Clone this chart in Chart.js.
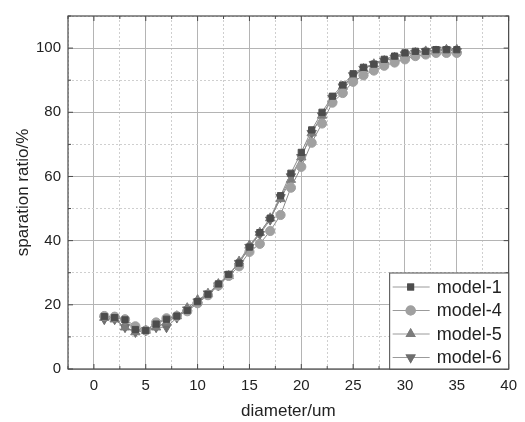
<!DOCTYPE html>
<html>
<head>
<meta charset="utf-8">
<script src="https://cdn.jsdelivr.net/npm/chart.js@4/dist/chart.umd.min.js"></script>
<style>
  html, body { margin: 0; padding: 0; background: #fff; }
  #wrap { width: 525px; height: 422px; position: relative; }
</style>
</head>
<body>
<div id="wrap"><canvas id="sepChart"></canvas></div>
<script>
// separation ratio vs particle diameter, four models
const diameters = [1,2,3,4,5,6,7,8,9,10,11,12,13,14,15,16,17,18,19,20,21,22,23,24,25,26,27,28,29,30,31,32,33,34,35];
const model1 = [16.3,16,15.3,12.3,12,14,15.5,16.5,18.3,21,23.3,26.5,29.5,33,38,42.5,47,54,61,67.5,74.5,80,85,88.5,92,94,95,96.5,97.5,98.5,99,99,99.5,99.5,99.5];
const model4 = [16.5,16.3,15.5,13.3,12,14.5,15.8,16.5,18,20.5,23,26,29,32,36.5,39,43,48,56.5,63,70.5,76.5,83,86,89.5,91.5,93,94.5,95.5,96.5,97.5,98,98.5,98.5,98.5];
const model5 = [16,15.5,13,11.5,12,13,14.5,16.5,19,21.5,23.5,26.5,29,33.5,38.5,42.5,47,53,59,66,73.5,79,84,88,91,93.5,95,96,97,98,98.5,99,99,99.5,99.5];
const model6 = [15.5,15.5,13,11.5,12,13,13,16,18.5,21,23.5,26,29.5,33,38,42,46.5,53.5,60,66,73.5,79,84.5,88,91.5,93.5,95,96,97,98,98.5,99,99.5,99.5,99];
const seriesNames = ['model-1', 'model-4', 'model-5', 'model-6'];
const xTicks = [-2.5,0,2.5,5,7.5,10,12.5,15,17.5,20,22.5,25,27.5,30,32.5,35,37.5,40];
const yTicks = [0,10,20,30,40,50,60,70,80,90,100,110];

const FONT = 'Liberation Sans, Arial, sans-serif';

function pts(arr) { return diameters.map((d, i) => ({ x: d, y: arr[i] })); }

const styles = [
  { color: '#4d4d4d', point: 'rect', r: 4.4, rot: 0 },
  { color: '#a0a0a0', point: 'circle', r: 4.6, rot: 0 },
  { color: '#7c7c7c', point: 'triangle', r: 5.4, rot: 0 },
  { color: '#6e6e6e', point: 'triangle', r: 5.4, rot: 180 }
];
const allSeries = [model1, model4, model5, model6];

const datasets = allSeries.map((s, i) => ({
  label: seriesNames[i],
  data: pts(s),
  borderColor: '#8a8a8a',
  borderWidth: 1,
  backgroundColor: styles[i].color,
  pointBackgroundColor: styles[i].color,
  pointBorderColor: styles[i].color,
  pointBorderWidth: 1,
  pointStyle: styles[i].point,
  pointRadius: styles[i].r,
  pointRotation: styles[i].rot,
  showLine: true,
  tension: 0
}));

// frame, inward ticks and the legend box
const framePlugin = {
  id: 'frame',
  afterDraw(chart) {
    const c = chart.ctx, a = chart.chartArea;
    const xs = chart.scales.x, ys = chart.scales.y;
    c.save();
    c.strokeStyle = '#4a4a4a';
    c.lineWidth = 1.2;
    c.strokeRect(a.left, a.top, a.right - a.left, a.bottom - a.top);
    c.lineWidth = 1;
    xTicks.forEach(v => {
      const px = xs.getPixelForValue(v);
      const len = v % 5 === 0 ? 5 : 3;
      c.beginPath();
      c.moveTo(px, a.bottom); c.lineTo(px, a.bottom - len);
      c.moveTo(px, a.top); c.lineTo(px, a.top + len);
      c.stroke();
    });
    yTicks.forEach(v => {
      const py = ys.getPixelForValue(v);
      const len = v % 20 === 0 ? 5 : 3;
      c.beginPath();
      c.moveTo(a.left, py); c.lineTo(a.left + len, py);
      c.moveTo(a.right, py); c.lineTo(a.right - len, py);
      c.stroke();
    });

    // legend inside lower right
    const bx = a.right - 119, by = a.bottom - 96, bw = 119, bh = 96;
    c.fillStyle = '#fff';
    c.fillRect(bx, by, bw, bh);
    c.strokeStyle = '#4a4a4a';
    c.strokeRect(bx, by, bw, bh);
    chart.data.datasets.forEach((ds, i) => {
      const y = by + 14 + i * 23.5;
      c.strokeStyle = '#9a9a9a';
      c.beginPath();
      c.moveTo(bx + 3, y); c.lineTo(bx + 40, y);
      c.stroke();
      const st = styles[i];
      c.fillStyle = st.color;
      Chart.helpers.drawPoint(c, { pointStyle: st.point, radius: st.r + 0.5, rotation: st.rot, borderWidth: 0 }, bx + 21, y);
      c.fill();
      c.fillStyle = '#222';
      c.font = '18px ' + FONT;
      c.textBaseline = 'middle';
      c.fillText(ds.label, bx + 47, y + 1);
    });
    c.restore();
  }
};

new Chart(document.getElementById('sepChart'), {
  type: 'scatter',
  data: { datasets },
  options: {
    animation: false,
    responsive: true,
    maintainAspectRatio: false,
    layout: { padding: { top: 12, right: 13, left: 0, bottom: 0 } },
    plugins: { legend: { display: false }, tooltip: { enabled: false } },
    scales: {
      x: {
        type: 'linear',
        min: -2.5,
        max: 40,
        afterBuildTicks: s => { s.ticks = xTicks.map(v => ({ value: v })); },
        afterFit: s => { s.height = 53; },
        grid: {
          drawTicks: false,
          color: ctx => (ctx.tick && ctx.tick.value % 5 === 0) ? '#b4b4b4' : '#cfcfcf'
        },
        border: { display: false, dash: ctx => (ctx.tick && ctx.tick.value % 5 === 0) ? [] : [2, 2] },
        ticks: {
          autoSkip: false,
          maxRotation: 0,
          padding: 8,
          color: '#222',
          font: { family: FONT, size: 15 },
          callback: v => (v % 5 === 0 && v >= 0) ? String(v) : ''
        },
        title: {
          display: true,
          text: 'diameter/um',
          color: '#222',
          font: { family: FONT, size: 17 },
          padding: { top: 4, bottom: 0 }
        }
      },
      y: {
        type: 'linear',
        min: 0,
        max: 110,
        afterBuildTicks: s => { s.ticks = yTicks.map(v => ({ value: v })); },
        afterFit: s => { s.width = 68; },
        grid: {
          drawTicks: false,
          color: ctx => (ctx.tick && ctx.tick.value % 20 === 0) ? '#b4b4b4' : '#cfcfcf'
        },
        border: { display: false, dash: ctx => (ctx.tick && ctx.tick.value % 20 === 0) ? [] : [2, 2] },
        ticks: {
          autoSkip: false,
          padding: 7,
          color: '#222',
          font: { family: FONT, size: 15 },
          callback: v => (v % 20 === 0 && v <= 100) ? String(v) : ''
        },
        title: {
          display: true,
          text: 'sparation ratio/%',
          color: '#222',
          font: { family: FONT, size: 17 },
          padding: { top: 13, bottom: 0 }
        }
      }
    }
  },
  plugins: [framePlugin]
});
</script>
</body>
</html>
